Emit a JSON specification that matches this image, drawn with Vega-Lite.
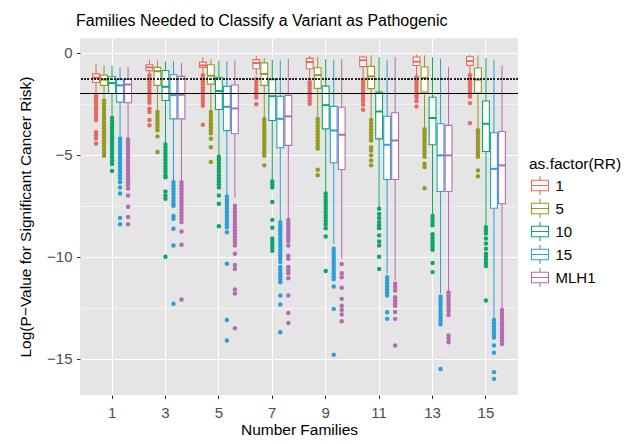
{
  "$schema": "https://vega.github.io/schema/vega-lite/v6.json",
  "width": 438,
  "height": 357,
  "autosize": "none",
  "padding": {"left": 80, "top": 38, "right": 114, "bottom": 49},
  "config": {
    "font": "Liberation Sans",
    "view": {"fill": "#E5E5E5", "stroke": null}
  },
  "title": {"text": "Families Needed to Classify a Variant as Pathogenic", "anchor": "start", "frame": "group", "fontSize": 16, "fontWeight": "normal", "color": "#000000", "offset": 9, "dx": -4},
  "data": {"values": [
    {"x":1,"g":"1","lo":-1.95,"q1":-1.46,"med":-1.22,"q3":-1.04,"hi":-0.54,"o":[-2.05,-2.15,-2.25,-2.35,-2.45,-2.55,-2.65,-2.75,-2.85,-3.0,-3.15,-3.3,-3.9,-4.05,-4.2,-4.45]},
    {"x":1,"g":"5","lo":-2.3,"q1":-1.6,"med":-1.32,"q3":-1.1,"hi":-0.62,"o":[-2.35,-2.5,-2.65,-2.8,-2.95,-3.1,-3.25,-3.4,-3.55,-3.7,-3.85,-4.0,-4.15,-4.3,-4.45,-4.6,-4.75,-4.9,-5.05]},
    {"x":1,"g":"10","lo":-3.1,"q1":-2.0,"med":-1.49,"q3":-1.18,"hi":-0.64,"o":[-3.2,-3.35,-3.5,-3.65,-3.8,-3.95,-4.1,-4.25,-4.4,-4.55,-4.7,-4.85,-5.0,-5.15,-5.3,-5.45,-5.8]},
    {"x":1,"g":"15","lo":-4.1,"q1":-2.42,"med":-1.6,"q3":-1.32,"hi":-0.72,"o":[-4.2,-4.35,-4.5,-4.65,-4.8,-4.95,-5.1,-5.25,-5.4,-5.55,-5.7,-5.85,-6.0,-6.15,-6.35,-6.6,-6.9,-8.1,-8.4]},
    {"x":1,"g":"MLH1","lo":-4.2,"q1":-2.45,"med":-1.56,"q3":-1.3,"hi":-0.7,"o":[-4.25,-4.4,-4.55,-4.7,-4.85,-5.0,-5.15,-5.3,-5.45,-5.6,-5.75,-5.9,-6.05,-6.2,-6.35,-6.5,-6.65,-7.0,-7.55,-8.05,-8.4]},
    {"x":3,"g":"1","lo":-1.0,"q1":-0.88,"med":-0.72,"q3":-0.59,"hi":-0.34,"o":[-1.1,-1.25,-1.4,-1.55,-1.7,-1.85,-2.0,-2.15,-2.3,-2.45,-2.75,-2.9,-3.3,-3.55]},
    {"x":3,"g":"5","lo":-2.83,"q1":-1.6,"med":-0.91,"q3":-0.72,"hi":-0.39,"o":[-2.9,-3.05,-3.2,-3.35,-3.5,-3.65,-3.8,-4.1,-4.87]},
    {"x":3,"g":"10","lo":-4.46,"q1":-2.34,"med":-1.67,"q3":-0.87,"hi":-0.42,"o":[-4.5,-4.65,-4.8,-4.95,-5.1,-5.25,-5.4,-5.55,-5.7,-5.85,-6.0,-6.1,-6.8,-7.0,-7.15,-10.0]},
    {"x":3,"g":"15","lo":-6.26,"q1":-3.24,"med":-2.08,"q3":-1.08,"hi":-0.42,"o":[-6.35,-6.5,-6.65,-6.8,-6.95,-7.1,-7.25,-7.4,-7.5,-8.0,-8.14,-8.63,-9.45,-12.3]},
    {"x":3,"g":"MLH1","lo":-6.3,"q1":-3.24,"med":-2.06,"q3":-1.16,"hi":-0.5,"o":[-6.35,-6.5,-6.65,-6.8,-6.95,-7.1,-7.25,-7.4,-7.55,-7.7,-7.85,-8.0,-8.15,-8.3,-8.76,-9.41,-12.09]},
    {"x":5,"g":"1","lo":-1.0,"q1":-0.72,"med":-0.62,"q3":-0.46,"hi":-0.21,"o":[-1.1,-1.25,-1.4,-1.55,-1.7,-1.85,-2.0,-2.15,-2.3,-2.45,-2.6,-3.53]},
    {"x":5,"g":"5","lo":-2.83,"q1":-1.54,"med":-1.13,"q3":-0.59,"hi":-0.31,"o":[-2.9,-3.05,-3.2,-3.35,-3.5,-3.65,-3.8,-3.95,-4.22,-4.63,-5.36]},
    {"x":5,"g":"10","lo":-5.05,"q1":-2.78,"med":-1.88,"q3":-1.2,"hi":-0.38,"o":[-5.1,-5.25,-5.4,-5.55,-5.7,-5.85,-6.0,-6.15,-6.3,-6.45,-6.6,-7.0,-7.4,-8.5]},
    {"x":5,"g":"15","lo":-7.0,"q1":-3.82,"med":-2.65,"q3":-1.65,"hi":-0.42,"o":[-7.05,-7.2,-7.35,-7.5,-7.65,-7.8,-7.95,-8.1,-8.25,-8.4,-8.55,-8.8,-10.34,-13.1,-14.1]},
    {"x":5,"g":"MLH1","lo":-7.1,"q1":-3.97,"med":-2.73,"q3":-1.58,"hi":-0.39,"o":[-7.5,-7.65,-7.8,-7.95,-8.1,-8.25,-8.4,-8.55,-8.7,-8.85,-9.0,-9.15,-9.3,-9.45,-9.85,-10.4,-10.6,-11.6,-11.8,-13.5]},
    {"x":7,"g":"1","lo":-1.1,"q1":-0.79,"med":-0.51,"q3":-0.34,"hi":-0.15,"o":[-1.3,-1.45,-1.6,-1.75,-1.9,-2.05,-2.2,-2.53]},
    {"x":7,"g":"5","lo":-3.16,"q1":-1.6,"med":-1.04,"q3":-0.5,"hi":-0.26,"o":[-3.25,-3.4,-3.55,-3.7,-3.85,-4.0,-4.15,-4.3,-4.45,-4.6,-4.75,-4.9,-5.05,-5.52]},
    {"x":7,"g":"10","lo":-6.2,"q1":-3.32,"med":-2.13,"q3":-1.32,"hi":-0.34,"o":[-6.3,-6.45,-6.6,-7.32,-8.19,-8.58,-9.1,-9.25,-9.4,-9.55,-9.7]},
    {"x":7,"g":"15","lo":-8.2,"q1":-4.66,"med":-3.24,"q3":-2.14,"hi":-0.38,"o":[-8.3,-8.45,-8.6,-8.75,-8.9,-9.05,-9.2,-9.35,-9.5,-9.65,-9.8,-9.95,-10.1,-10.25,-10.5,-10.65,-10.8,-10.95,-11.1,-11.25,-11.9,-12.34,-13.7]},
    {"x":7,"g":"MLH1","lo":-8.1,"q1":-4.54,"med":-3.12,"q3":-2.09,"hi":-0.31,"o":[-8.2,-8.35,-8.5,-8.65,-8.8,-8.95,-9.1,-9.25,-9.45,-9.95,-10.1,-10.5,-10.65,-10.8,-11.05,-11.9,-12.75,-13.24]},
    {"x":9,"g":"1","lo":-1.35,"q1":-0.79,"med":-0.46,"q3":-0.28,"hi":-0.15,"o":[-1.45,-1.6,-1.75,-1.9,-2.05,-2.2,-2.35,-2.5]},
    {"x":9,"g":"5","lo":-3.16,"q1":-1.75,"med":-1.1,"q3":-0.74,"hi":-0.21,"o":[-3.25,-3.4,-3.55,-3.7,-3.85,-4.0,-4.15,-4.3,-4.45,-4.6,-4.7,-5.74,-6.0]},
    {"x":9,"g":"10","lo":-6.83,"q1":-3.73,"med":-2.57,"q3":-1.64,"hi":-0.31,"o":[-6.9,-7.05,-7.2,-7.35,-7.5,-7.65,-7.8,-7.95,-8.1,-8.25,-8.4,-8.6,-9.0,-10.7]},
    {"x":9,"g":"15","lo":-9.36,"q1":-5.39,"med":-3.81,"q3":-2.63,"hi":-0.34,"o":[-9.6,-9.75,-9.9,-10.05,-10.2,-10.35,-10.5,-10.65,-10.8,-10.95,-11.1,-11.45,-12.55,-14.8]},
    {"x":9,"g":"MLH1","lo":-10.1,"q1":-5.72,"med":-4.02,"q3":-2.67,"hi":-0.31,"o":[-10.35,-10.8,-11.0,-11.52,-12.06,-12.4,-12.6,-12.83,-13.16]},
    {"x":11,"g":"1","lo":-1.24,"q1":-0.68,"med":-0.37,"q3":-0.21,"hi":-0.13,"o":[-1.32,-1.47,-1.62,-1.77,-1.92,-2.07,-2.22,-2.37,-2.55,-2.79]},
    {"x":11,"g":"5","lo":-3.24,"q1":-1.76,"med":-1.16,"q3":-0.67,"hi":-0.13,"o":[-3.3,-3.45,-3.6,-3.75,-3.9,-4.05,-4.2,-4.3,-4.63,-4.79,-5.03,-5.28,-5.52]},
    {"x":11,"g":"10","lo":-7.56,"q1":-4.22,"med":-2.88,"q3":-1.93,"hi":-0.22,"o":[-7.65,-7.9,-8.1,-8.3,-8.45,-8.6,-8.95,-9.25,-9.45,-10.0,-10.6]},
    {"x":11,"g":"15","lo":-10.83,"q1":-6.21,"med":-4.51,"q3":-3.11,"hi":-0.38,"o":[-11.0,-11.15,-11.3,-11.45,-11.6,-11.75,-11.9,-12.72,-13.04]},
    {"x":11,"g":"MLH1","lo":-11.16,"q1":-6.21,"med":-4.3,"q3":-2.94,"hi":-0.22,"o":[-11.32,-11.48,-11.65,-11.98,-12.13,-12.28,-12.4,-12.7,-13.04,-14.35]},
    {"x":13,"g":"1","lo":-1.12,"q1":-0.63,"med":-0.44,"q3":-0.21,"hi":-0.1,"o":[-1.2,-1.35,-1.5,-1.65,-1.8,-1.95,-2.1,-2.2,-2.37,-2.63]},
    {"x":13,"g":"5","lo":-3.65,"q1":-1.93,"med":-1.24,"q3":-0.7,"hi":-0.13,"o":[-3.75,-3.9,-4.05,-4.2,-4.35,-4.5,-4.65,-4.8,-4.95,-5.1,-5.44,-5.6,-6.64]},
    {"x":13,"g":"10","lo":-7.95,"q1":-4.51,"med":-3.2,"q3":-2.18,"hi":-0.22,"o":[-8.0,-8.15,-8.3,-8.45,-8.9,-9.05,-9.2,-9.35,-9.5,-9.65,-10.3,-10.75]},
    {"x":13,"g":"15","lo":-11.8,"q1":-6.8,"med":-5.03,"q3":-3.48,"hi":-0.3,"o":[-11.95,-12.1,-12.25,-12.4,-12.55,-12.7,-12.85,-13.0,-13.15,-13.3,-15.5]},
    {"x":13,"g":"MLH1","lo":-11.65,"q1":-6.8,"med":-5.03,"q3":-3.56,"hi":-0.7,"o":[-11.75,-11.9,-12.05,-12.2,-12.35,-12.5,-12.65,-12.85,-13.85,-14.0,-14.19]},
    {"x":15,"g":"1","lo":-1.03,"q1":-0.62,"med":-0.41,"q3":-0.2,"hi":-0.1,"o":[-1.1,-1.25,-1.4,-1.55,-1.7,-1.85,-2.0,-2.15,-2.47,-3.45]},
    {"x":15,"g":"5","lo":-3.73,"q1":-1.98,"med":-1.32,"q3":-0.75,"hi":-0.13,"o":[-3.8,-3.95,-4.1,-4.25,-4.4,-4.55,-4.7,-4.85,-5.0,-5.1,-5.77,-6.05]},
    {"x":15,"g":"10","lo":-8.46,"q1":-4.84,"med":-3.48,"q3":-2.37,"hi":-0.25,"o":[-8.55,-8.7,-8.86,-9.1,-9.35,-9.6,-9.85,-10.0,-10.15,-10.3,-10.45,-12.14]},
    {"x":15,"g":"15","lo":-13.05,"q1":-7.62,"med":-5.69,"q3":-3.92,"hi":-0.34,"o":[-13.1,-13.25,-13.4,-13.55,-13.7,-13.85,-13.95,-14.35,-14.7,-15.65,-15.98]},
    {"x":15,"g":"MLH1","lo":-12.55,"q1":-7.4,"med":-5.52,"q3":-3.86,"hi":-0.62,"o":[-12.6,-12.75,-12.9,-13.05,-13.2,-13.35,-13.5,-13.65,-13.8,-13.95,-14.1,-14.27]}
  ]},
  "encoding": {
    "x": {"field": "x", "type": "ordinal", "title": "Number Families",
      "scale": {"type": "band", "paddingInner": 0.25, "paddingOuter": 0.225},
      "axis": {"labelAngle": 0, "bandPosition": 0.5, "domain": false, "grid": true, "gridColor": "#FFFFFF", "gridWidth": 1.1, "tickColor": "#333333", "tickSize": 3.5, "tickWidth": 1, "labelColor": "#4D4D4D", "labelFontSize": 15, "labelPadding": 7, "titleFontSize": 15.5, "titleFontWeight": "normal", "titleColor": "#000000", "titlePadding": 2, "labelOverlap": false}},
    "xOffset": {"field": "g", "type": "nominal", "sort": ["1", "5", "10", "15", "MLH1"], "scale": {"paddingInner": 0.15, "paddingOuter": 0.075}}
  },
  "layer": [
    {
      "transform": [{"flatten": ["o"], "as": ["ov"]}],
      "mark": {"type": "circle", "size": 20, "opacity": 1},
      "encoding": {
        "y": {"field": "ov", "type": "quantitative"},
        "color": {"field": "g", "type": "nominal", "legend": null,
          "scale": {"range": ["#E8695F", "#0BA76A", "#2A9FD8", "#949A22", "#B56BAF"]}}
      }
    },
    {
      "mark": {"type": "rule", "strokeWidth": 1},
      "encoding": {
        "y": {"field": "lo", "type": "quantitative",
          "scale": {"domain": [-16.77, 0.72], "nice": false, "zero": false},
          "title": "Log(P\u2212Value for Significant Cancer Risk)",
          "axis": {"values": [-15, -12.5, -10, -7.5, -5, -2.5, 0], "format": ".0f", "labelExpr": "datum.value % 5 === 0 ? datum.label : ''", "labelOverlap": false, "domain": false, "grid": true, "gridColor": "#FFFFFF",
            "gridWidth": {"condition": {"test": "datum.value % 5 !== 0", "value": 0.55}, "value": 1.1},
            "tickOpacity": {"condition": {"test": "datum.value % 5 !== 0", "value": 0}, "value": 1},
            "tickColor": "#333333", "tickSize": 3.5, "labelColor": "#4D4D4D", "labelFontSize": 15, "labelPadding": 4.5, "titleFontSize": 15.5, "titleFontWeight": "normal", "titleColor": "#000000", "titlePadding": 13}},
        "y2": {"field": "hi"},
        "color": {"field": "g", "type": "nominal", "legend": null}
      }
    },
    {
      "mark": {"type": "bar", "fill": "#FFFFFF", "strokeWidth": 1.1},
      "encoding": {
        "y": {"field": "q1", "type": "quantitative"},
        "y2": {"field": "q3"},
        "stroke": {"field": "g", "type": "nominal", "title": "as.factor(RR)",
          "scale": {"domain": ["1", "5", "10", "15", "MLH1"], "range": ["#E8695F", "#949A22", "#0BA76A", "#2A9FD8", "#B56BAF"]},
          "legend": {"orient": "none", "legendX": 449, "legendY": 118.5, "padding": 0, "titleFontSize": 15.5, "titleFontWeight": "normal", "titleColor": "#000000", "titlePadding": 2.5, "labelFontSize": 15, "labelColor": "#000000", "labelOffset": 4.5, "symbolSize": 400, "rowPadding": -5.5,
            "symbolType": "M-0.85,-0.53H0.85V0.53H-0.85Z M-0.85,0H0.85 M0,-0.53V-0.95 M0,0.53V0.95",
            "symbolFillColor": "#FFFFFF", "symbolStrokeWidth": 1.1, "symbolOpacity": 1}}
      }
    },
    {
      "mark": {"type": "tick", "thickness": 2, "size": 7.6, "opacity": 1, "orient": "horizontal"},
      "encoding": {
        "y": {"field": "med", "type": "quantitative"},
        "color": {"field": "g", "type": "nominal", "legend": null}
      }
    },
    {
      "mark": {"type": "rule", "color": "#222222", "strokeWidth": 1, "strokeDash": [1.2, 2.1]},
      "encoding": {"y": {"datum": -1.301}, "x": null, "xOffset": null}
    },
    {
      "mark": {"type": "rule", "color": "#000000", "strokeWidth": 1.1},
      "encoding": {"y": {"datum": -2}, "x": null, "xOffset": null}
    }
  ]
}
